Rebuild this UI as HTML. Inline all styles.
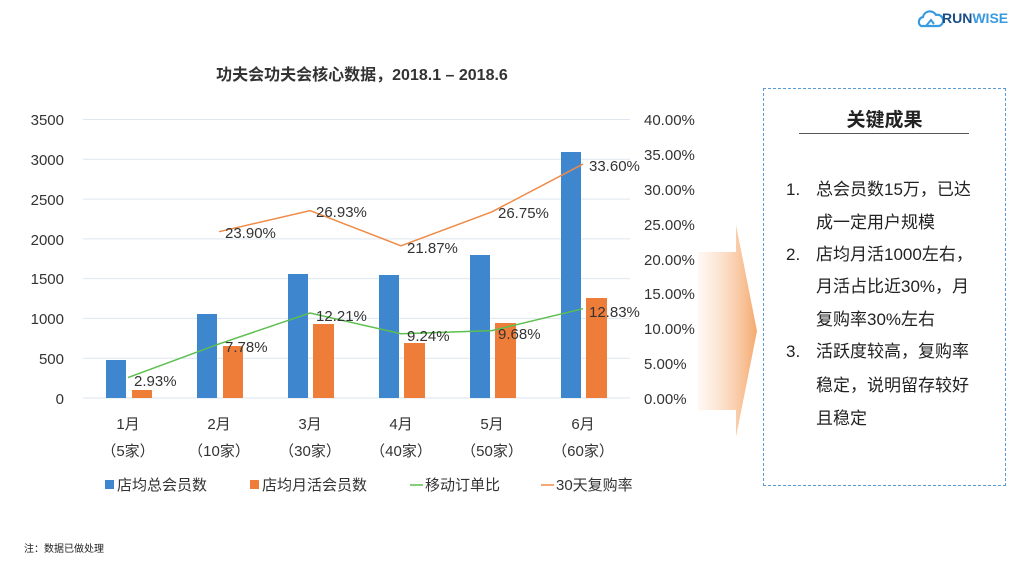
<!DOCTYPE html>
<html><head><meta charset="utf-8"><style>
body{margin:0;width:1025px;height:569px;background:#fff;overflow:hidden;font-family:"Liberation Sans","Noto Sans CJK SC",sans-serif;position:relative}
.box{position:absolute;left:763px;top:88px;width:243px;height:398px;border:1px dashed #5b9bd5;box-sizing:border-box}
.box h3{margin:0;position:absolute;top:16px;left:0;width:100%;text-align:center;font-size:19px;font-weight:bold;color:#222}
.box .ul{position:absolute;left:35px;top:44px;width:170px;border-top:1px solid #555}
.t{position:absolute;font-size:17px;color:#222;white-space:nowrap;line-height:20px}
</style></head><body>
<svg width="1025" height="569" style="position:absolute;left:0;top:0" font-family="Liberation Sans, Noto Sans CJK SC, sans-serif">
<defs><linearGradient id="g" x1="0" x2="1"><stop offset="0" stop-color="#fbd9bf" stop-opacity="0.2"/><stop offset="1" stop-color="#f5a96e"/></linearGradient></defs>
<polygon points="698,252 736,252 736,225 757,331 736,437 736,410 698,410" fill="url(#g)"/>
<g stroke="#dde6f1" stroke-width="1">
<line x1="83" x2="630" y1="119.5" y2="119.5"/><line x1="83" x2="630" y1="159.3" y2="159.3"/><line x1="83" x2="630" y1="199.1" y2="199.1"/><line x1="83" x2="630" y1="238.9" y2="238.9"/><line x1="83" x2="630" y1="278.6" y2="278.6"/><line x1="83" x2="630" y1="318.4" y2="318.4"/><line x1="83" x2="630" y1="358.2" y2="358.2"/><line x1="83" x2="630" y1="398" y2="398"/>
</g>
<text x="362" y="80" font-size="16" font-weight="bold" text-anchor="middle" fill="#333">功夫会功夫会核心数据，2018.1 – 2018.6</text>
<g font-size="15" fill="#333" text-anchor="end">
<text x="64" y="125">3500</text><text x="64" y="165">3000</text><text x="64" y="205">2500</text><text x="64" y="245">2000</text><text x="64" y="284">1500</text><text x="64" y="324">1000</text><text x="64" y="364">500</text><text x="64" y="404">0</text>
</g>
<g font-size="15" fill="#333">
<text x="644" y="125">40.00%</text><text x="644" y="160">35.00%</text><text x="644" y="195">30.00%</text><text x="644" y="230">25.00%</text><text x="644" y="265">20.00%</text><text x="644" y="299">15.00%</text><text x="644" y="334">10.00%</text><text x="644" y="369">5.00%</text><text x="644" y="404">0.00%</text>
</g>
<g fill="#3e87cf">
<rect x="106" y="360" width="20" height="38"/><rect x="197" y="314" width="20" height="84"/><rect x="288" y="274" width="20" height="124"/><rect x="379" y="275" width="20" height="123"/><rect x="470" y="255" width="20" height="143"/><rect x="561" y="152" width="20" height="246"/>
</g>
<g fill="#ef7d3a">
<rect x="132" y="390" width="20" height="8"/><rect x="223" y="346" width="20" height="52"/><rect x="313" y="324" width="21" height="74"/><rect x="404" y="343" width="21" height="55"/><rect x="495" y="323" width="21" height="75"/><rect x="586" y="298" width="21" height="100"/>
</g>
<polyline points="128,377.6 219,343.9 310,313 401,333.7 492,330.6 583,308.7" fill="none" stroke="#5cbf4e" stroke-width="1.5"/>
<polyline points="219,231.7 310,210.6 401,245.8 492,211.8 583,164.1" fill="none" stroke="#ef8a47" stroke-width="1.5"/>
<g font-size="15" fill="#333">
<text x="134" y="386">2.93%</text><text x="225" y="352">7.78%</text><text x="316" y="321">12.21%</text><text x="407" y="341">9.24%</text><text x="498" y="339">9.68%</text><text x="589" y="317">12.83%</text>
<text x="225" y="238">23.90%</text><text x="316" y="217">26.93%</text><text x="407" y="253">21.87%</text><text x="498" y="218">26.75%</text><text x="589" y="171">33.60%</text>
</g>
<g font-size="15" fill="#333" text-anchor="middle">
<text x="128" y="429">1月</text><text x="219" y="429">2月</text><text x="310" y="429">3月</text><text x="401" y="429">4月</text><text x="492" y="429">5月</text><text x="583" y="429">6月</text>
<text x="128" y="456">（5家）</text><text x="219" y="456">（10家）</text><text x="310" y="456">（30家）</text><text x="401" y="456">（40家）</text><text x="492" y="456">（50家）</text><text x="583" y="456">（60家）</text>
</g>
<rect x="105" y="480" width="9" height="9" fill="#3e87cf"/><text x="117" y="490" font-size="15" fill="#333">店均总会员数</text>
<rect x="250" y="480" width="9" height="9" fill="#ef7d3a"/><text x="262" y="490" font-size="15" fill="#333">店均月活会员数</text>
<line x1="410" x2="423" y1="485" y2="485" stroke="#5cbf4e" stroke-width="1.5"/><text x="425" y="490" font-size="15" fill="#333">移动订单比</text>
<line x1="541" x2="554" y1="485" y2="485" stroke="#ef8a47" stroke-width="1.5"/><text x="556" y="490" font-size="15" fill="#333">30天复购率</text>
<text x="24" y="552" font-size="10" fill="#222">注：数据已做处理</text>
<g transform="translate(917,8)"><path d="M4,18 a5,5 0 0 1 2,-9 a7,7 0 0 1 13,-2 a5,5 0 0 1 3,11 z" fill="none" stroke="#3a9ae0" stroke-width="2.2"/><path d="M9,18 l5,-6 l3,4" fill="none" stroke="#3a9ae0" stroke-width="2"/></g>
<text x="942" y="23" font-size="14" font-weight="bold" fill="#1b4d8a">RUN<tspan fill="#3a9ae0">WISE</tspan></text>
</svg>
<div class="box"><h3>关键成果</h3><div class="ul"></div></div>
<div class="t" style="left:786px;top:180px">1.</div><div class="t" style="left:816px;top:180px">总会员数15万，已达</div>
<div class="t" style="left:816px;top:213px">成一定用户规模</div>
<div class="t" style="left:786px;top:245px">2.</div><div class="t" style="left:816px;top:245px">店均月活1000左右，</div>
<div class="t" style="left:816px;top:277px">月活占比近30%，月</div>
<div class="t" style="left:816px;top:310px">复购率30%左右</div>
<div class="t" style="left:786px;top:342px">3.</div><div class="t" style="left:816px;top:342px">活跃度较高，复购率</div>
<div class="t" style="left:816px;top:376px">稳定，说明留存较好</div>
<div class="t" style="left:816px;top:409px">且稳定</div>
</body></html>
